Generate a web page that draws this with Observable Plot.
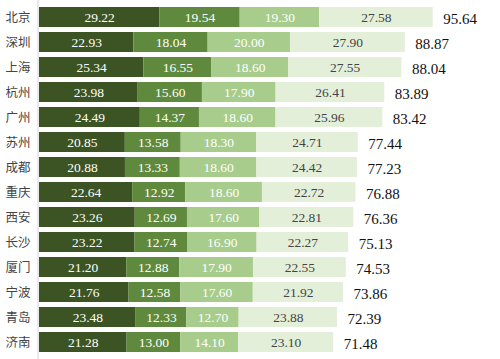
<!DOCTYPE html>
<html><head><meta charset="utf-8">
<script src="https://cdn.jsdelivr.net/npm/d3@7"></script>
<script src="https://cdn.jsdelivr.net/npm/@observablehq/plot@0.6"></script>
<style>body{margin:0;background:#fff} g[aria-label="text"] text{font-family:"Liberation Serif","DejaVu Serif",serif !important}</style>
</head><body><div id="chart"></div>
<script>
const cities = ["北京","深圳","上海","杭州","广州","苏州","成都","重庆","西安","长沙","厦门","宁波","青岛","济南"];
const seg1 = [29.22,22.93,25.34,23.98,24.49,20.85,20.88,22.64,23.26,23.22,21.20,21.76,23.48,21.28];
const seg2 = [19.54,18.04,16.55,15.60,14.37,13.58,13.33,12.92,12.69,12.74,12.88,12.58,12.33,13.00];
const seg3 = [19.30,20.00,18.60,17.90,18.60,18.30,18.60,18.60,17.60,16.90,17.90,17.60,12.70,14.10];
const seg4 = [27.58,27.90,27.55,26.41,25.96,24.71,24.42,22.72,22.81,22.27,22.55,21.92,23.88,23.10];
const totals = [95.64,88.87,88.04,83.89,83.42,77.44,77.23,76.88,76.36,75.13,74.53,73.86,72.39,71.48];

const barColors = ["#3c5424","#5f8a3d","#a8cc8c","#e4efda"];
const textColors = ["#ffffff","#ffffff","#ffffff","#444444"];
const segs = [seg1, seg2, seg3, seg4];

const rows = [];
cities.forEach((c, i) => segs.forEach((s, k) => rows.push({city: c, k, value: s[i]})));
const totalRows = cities.map((c, i) => ({city: c, total: totals[i]}));

const chart = Plot.plot({
  width: 500, height: 359,
  marginLeft: 39, marginRight: 0, marginTop: 0, marginBottom: 0,
  style: {background: "#fff"},
  x: {domain: [0, 112], axis: null},
  y: {domain: cities, paddingInner: 0.21, paddingOuter: 0.18, label: null, axis: null},
  color: {type: "identity"},
  marks: [
    Plot.barX(rows, Plot.stackX({x: "value", y: "city", fill: d => barColors[d.k]})),
    Plot.textX(rows, Plot.stackX({x: "value", y: "city", text: d => d.value.toFixed(2),
      fill: d => textColors[d.k], fontSize: 13.5, letterSpacing: 1})),
    Plot.textX(totalRows, {x: "total", y: "city", text: d => d.total.toFixed(2), textAnchor: "start",
      dx: 10, dy: 2, fill: "#111", fontSize: 15}),
    Plot.ruleX([0], {stroke: "#d4d4d4", dx: -1.5}),
    Plot.axisY({tickSize: 0, tickPadding: 9, fontSize: 12.5, fontFamily: "'Noto Sans CJK SC', sans-serif", fill: "#444", label: null})
  ]
});
document.getElementById("chart").append(chart);
</script></body></html>
